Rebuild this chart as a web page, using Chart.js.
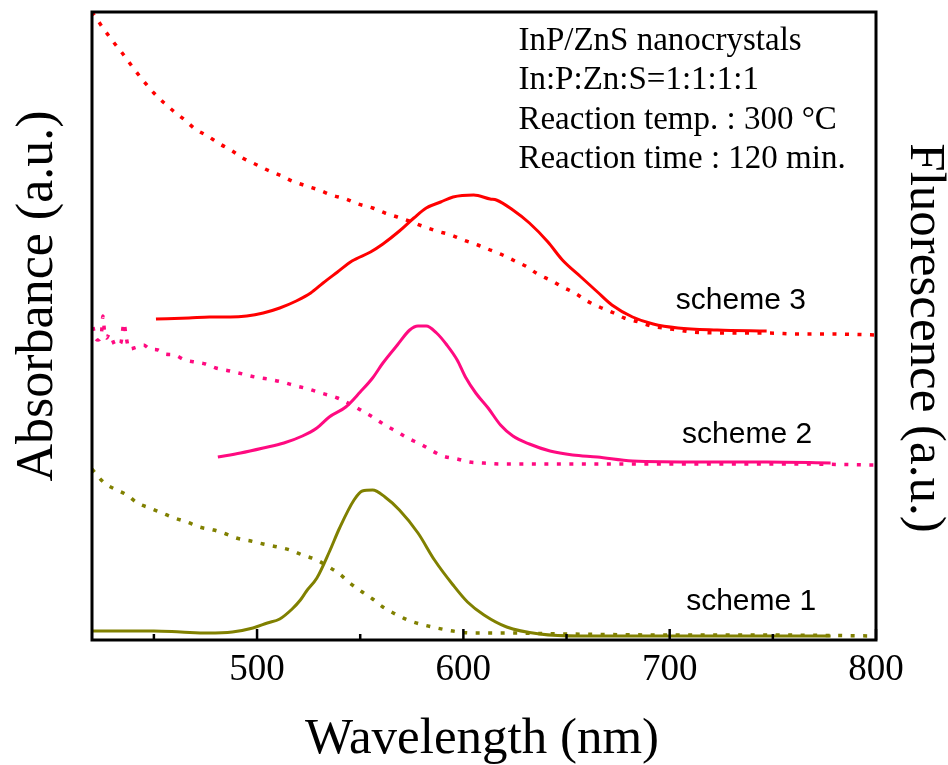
<!DOCTYPE html>
<html>
<head>
<meta charset="utf-8">
<script src="https://cdn.jsdelivr.net/npm/chart.js@4"></script>
<style>
  html, body { margin: 0; padding: 0; background: #fff; }
  #wrap { width: 948px; height: 765px; }
</style>
</head>
<body>
<div id="wrap"><canvas id="chart" width="948" height="765"></canvas></div>
<script>
// ========== DATA (wavelength in nm, intensity in arbitrary units) ==========
const abs3X = [420,425,430,435,440,445,450,455,460,465,470,476,482,488,493,499,505,512,517,524,530,536,543,549,556,562,568,575,580,587,594,600,607,613,619,625,631,636,643,648,654,660,666,673,678,685,691,697,704,711,731,747,763,779,800];
const abs3Y = [628,613,599,586,572,559,547,537,528,520,511,504,496,489,482,476,470,464,459,454,450,445,441,436,432,427,423,418,414,409,405,400,395,390,385,379,373,366,359,353,347,339,333,327,322,318,314,312,310,308,307,307,306,306,305];

const fl3X = [451,467,477,487,495,503,511,519,526,532,539,546,555,561,569,576,582,589,595,605,613,616,624,632,641,648,657,665,672,682,692,704,723,747];
const fl3Y = [321,322,323,323,324,327,332,339,347,357,368,379,388,396,409,422,432,438,443,445,441,440,430,417,398,380,363,348,335,323,316,312,310,309];

const abs2X = [420.5,421.5,423,424.5,425.3,426,427.2,428.3,431.6,434,435.5,436.5,438,442,445,448,452,455,460,465,470,475,480,487,493,499,505,512,519,525,531,539,545,551,556,562,568,573,580,585,590,597,603,610,618,630,650,680,720,760,800];
const abs2Y = [313,303,300,305,324,310,302,306,294,297,317,304,291,293,295,291,290,286,285,280,278,276,272,269,266,263,261,258,254,251,247,242,236,229,223,215,208,202,195,189,184,181,178,177,176,176,176,176,176,176,175];

const fl2X = [481,492,503,513,522,529,535,543,550,556,561,568,574,578,582,587,592,597,601,606,612,618,624,632,642,653,665,682,715,747,778];
const fl2Y = [183,187,192,197,204,212,223,233,248,262,277,295,310,314,314,307,295,280,263,247,232,215,204,196,189,185,183,179,178,178,177];

const abs1X = [420,421.5,426,432,437,442,448,454,460,466,472,479,485,490,497,503,510,516,522,529,534,540,545,551,556,561,567,573,579,585,592,598,605,613,621,650,700,750,800];
const abs1Y = [171,167,157,150,145,137,132,127,122,118,113,110,106,102,99,96,93,90,85,80,74,66,57,48,41,33,26,20,16,13,10,8,7,7,7,6,5,5,4];

const fl1X = [420,450,463,476,488,498,505,511,517,521,524,529,535,540,547,551,556,562,569,578,586,595,602,610,621,637,657,690,740,778];
const fl1Y = [9,9,8,7,8,12,17,21,31,40,49,62,88,112,140,149,150,143,130,107,80,55,38,25,13,6,4,4,4,4];

const xTickLabels = [500, 600, 700, 800];
const xMinorTicks = [450, 550, 650, 750];

const schemeLabels = ["scheme 3", "scheme 2", "scheme 1"];
const infoLines = ["InP/ZnS nanocrystals", "In:P:Zn:S=1:1:1:1", "Reaction temp. : 300 \u00B0C", "Reaction time : 120 min."];

// ========== HELPERS ==========
const RED = "#ff0000";
const PINK = "#ff0a80";
const OLIVE = "#808000";
const SERIF = "'Liberation Serif', 'Times New Roman', serif";
const SANS = "'Liberation Sans', Arial, sans-serif";

function toPoints(xs, ys) {
  return xs.map((x, i) => ({ x: x, y: ys[i] }));
}

function curve(xs, ys, color, dotted) {
  return {
    data: toPoints(xs, ys),
    borderColor: color,
    borderWidth: dotted ? 3.5 : 3,
    borderDash: dotted ? [4, 8.5] : [],
    borderCapStyle: "butt",
    pointRadius: 0,
    cubicInterpolationMode: "monotone",
    fill: false,
  };
}

// ========== FRAME, TICKS AND TEXT ==========
const decorPlugin = {
  id: "decor",
  afterDatasetsDraw(chart) {
    const { ctx, chartArea: a } = chart;
    const x = chart.scales.x;
    const y = chart.scales.y;
    ctx.save();

    // frame
    ctx.strokeStyle = "#000";
    ctx.lineWidth = 3;
    ctx.strokeRect(a.left, a.top, a.right - a.left, a.bottom - a.top);

    // inward ticks
    ctx.lineWidth = 2.5;
    xTickLabels.forEach((v) => {
      const px = x.getPixelForValue(v);
      ctx.beginPath();
      ctx.moveTo(px, a.bottom);
      ctx.lineTo(px, a.bottom - 11);
      ctx.stroke();
    });
    xMinorTicks.forEach((v) => {
      const px = x.getPixelForValue(v);
      ctx.beginPath();
      ctx.moveTo(px, a.bottom);
      ctx.lineTo(px, a.bottom - 6);
      ctx.stroke();
    });

    // scheme labels (anchored in data units)
    ctx.fillStyle = "#000";
    ctx.font = "30px " + SANS;
    ctx.textBaseline = "alphabetic";
    ctx.textAlign = "left";
    const labelPos = [[703, 331], [706, 197], [708, 30]];
    schemeLabels.forEach((t, i) => {
      ctx.fillText(t, x.getPixelForValue(labelPos[i][0]), y.getPixelForValue(labelPos[i][1]));
    });

    // info block
    ctx.font = "33px " + SERIF;
    const infoLeft = x.getPixelForValue(626.7);
    infoLines.forEach((t, i) => {
      ctx.fillText(t, infoLeft, y.getPixelForValue(590 - i * 39.3));
    });

    // axis titles
    ctx.font = "51px " + SERIF;
    ctx.textAlign = "center";
    ctx.textBaseline = "middle";
    ctx.fillText("Wavelength (nm)", (a.left + a.right) / 2 - 2, 740);

    ctx.save();
    ctx.translate(38, 296);
    ctx.rotate(-Math.PI / 2);
    ctx.font = "52px " + SERIF;
    ctx.fillText("Absorbance (a.u.)", 0, 0);
    ctx.restore();

    ctx.save();
    ctx.translate(924, 338);
    ctx.rotate(Math.PI / 2);
    ctx.fillText("Fluorescence (a.u.)", 0, 0);
    ctx.restore();

    ctx.restore();
  },
};

// ========== CHART ==========
new Chart(document.getElementById("chart"), {
  type: "line",
  data: {
    datasets: [
      curve(abs3X, abs3Y, RED, true),
      curve(fl3X, fl3Y, RED, false),
      curve(abs2X, abs2Y, PINK, true),
      curve(fl2X, fl2Y, PINK, false),
      curve(abs1X, abs1Y, OLIVE, true),
      curve(fl1X, fl1Y, OLIVE, false),
    ],
  },
  options: {
    responsive: false,
    animation: false,
    layout: { padding: { top: 12, left: 0, right: 0, bottom: 0 } },
    plugins: { legend: { display: false }, tooltip: { enabled: false } },
    scales: {
      x: {
        type: "linear",
        min: 420,
        max: 800,
        afterBuildTicks: (scale) => {
          scale.ticks = xTickLabels.map((v) => ({ value: v }));
        },
        afterFit: (scale) => { scale.height = 125; },
        grid: { display: false, drawTicks: false },
        border: { display: false },
        ticks: {
          padding: 8,
          color: "#000",
          maxRotation: 0,
          autoSkip: false,
          font: { family: SERIF, size: 37 },
        },
      },
      y: {
        type: "linear",
        position: "left",
        min: 0,
        max: 628,
        afterFit: (scale) => { scale.width = 92; },
        grid: { display: false },
        border: { display: false },
        ticks: { display: false },
      },
      y2: {
        type: "linear",
        position: "right",
        min: 0,
        max: 1,
        afterFit: (scale) => { scale.width = 72; },
        grid: { display: false },
        border: { display: false },
        ticks: { display: false },
      },
    },
  },
  plugins: [decorPlugin],
});
</script>
</body>
</html>
